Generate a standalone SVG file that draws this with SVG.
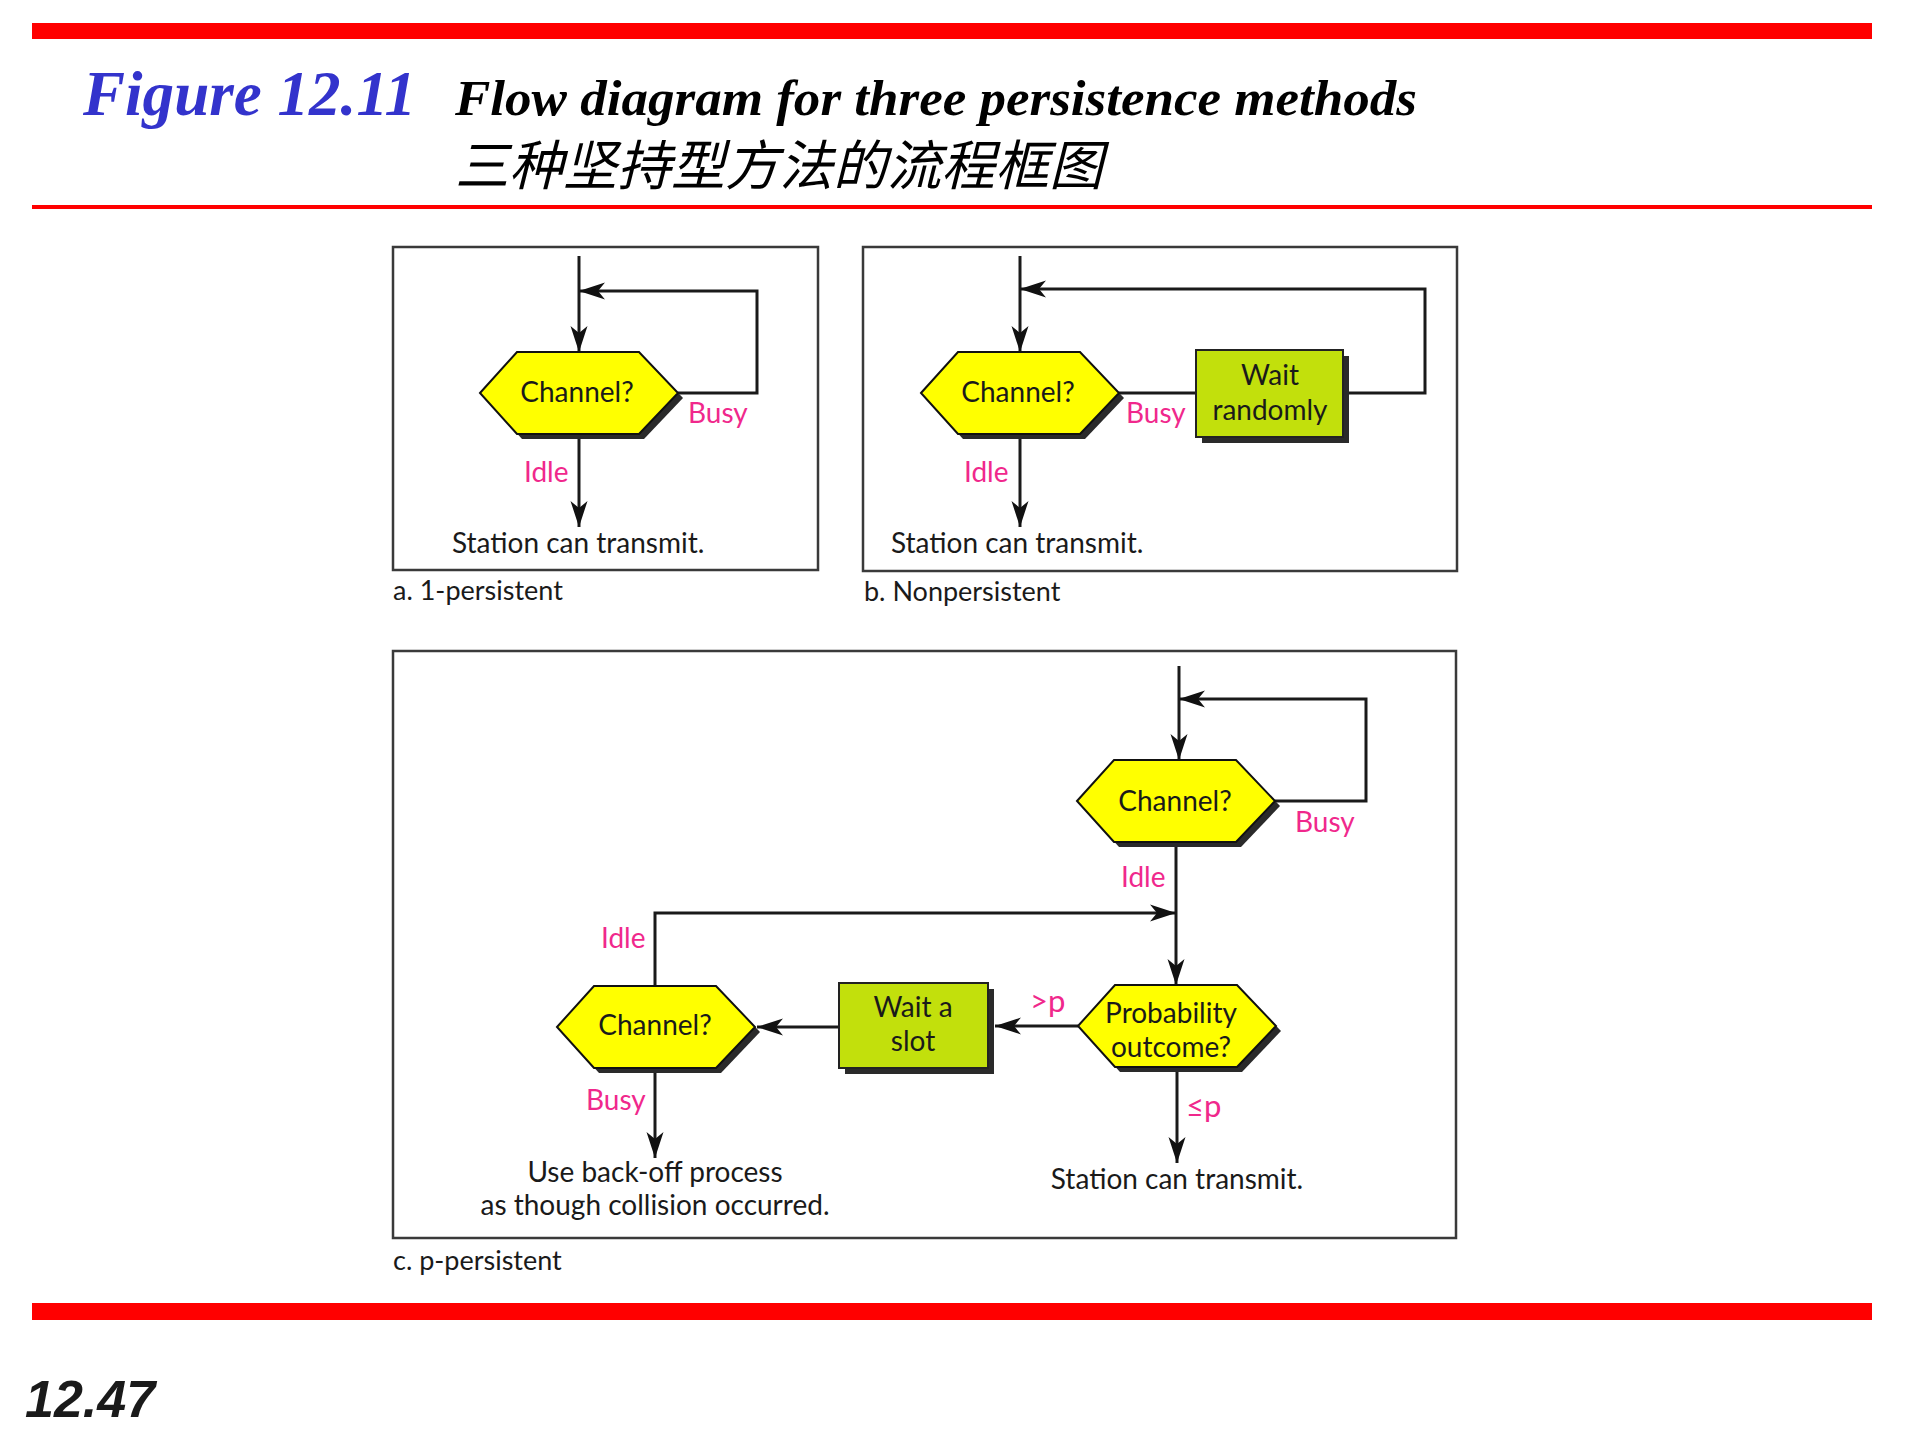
<svg xmlns="http://www.w3.org/2000/svg" xmlns:xlink="http://www.w3.org/1999/xlink" width="1920" height="1440" viewBox="0 0 1920 1440">
  <style>
    .bar { fill: #ff0000; }
    .panel { fill: none; stroke: #3a3a3a; stroke-width: 2.5; }
    .line { fill: none; stroke: #1a1a1a; stroke-width: 3; }
    .arrow { fill: none; stroke: #1a1a1a; stroke-width: 3; marker-end: url(#arr); }
    .hexfill { fill: #ffff00; stroke: #111; stroke-width: 2; }
    .boxfill { fill: #c2e00c; stroke: #222; stroke-width: 2; }
    .shadow { fill: #2a2a2a; }
    .t { font-family: Lato, "Open Sans", sans-serif; font-size: 28px; fill: #1a1a1a; }
    .c { text-anchor: middle; }
    .pink { font-family: Lato, "Open Sans", sans-serif; font-size: 28px; fill: #f0288c; }
    .big { font-size: 31px; }
    .cap { font-family: Lato, "Open Sans", sans-serif; font-size: 27px; fill: #1a1a1a; }
  </style>
  <defs>
    <marker id="arr" markerUnits="userSpaceOnUse" viewBox="-28 -10 30 20" refX="0" refY="0" markerWidth="30" markerHeight="20" orient="auto">
      <path d="M0,0 L-26,-8.5 L-19,0 L-26,8.5 Z" fill="#111"/>
    </marker>
    <polygon id="hex" points="0,41 37,0 159,0 198,41 159,82 37,82"/>
  </defs>

  <!-- header -->
  <rect class="bar" x="32" y="23" width="1840" height="16"/>
  <rect class="bar" x="32" y="205" width="1840" height="4"/>
  <text x="83" y="115" font-family="'Liberation Serif', serif" font-weight="bold" font-style="italic" font-size="63" fill="#3333cc" textLength="333" lengthAdjust="spacingAndGlyphs">Figure 12.11</text>
  <text x="455" y="115" font-family="'Liberation Serif', serif" font-weight="bold" font-style="italic" font-size="50" fill="#000" textLength="962" lengthAdjust="spacingAndGlyphs">Flow diagram for three persistence methods</text>
  <text x="455" y="185" font-family="'Noto Sans CJK SC', sans-serif" font-style="italic" font-size="54" fill="#000">三种坚持型方法的流程框图</text>

  <!-- panel frames -->
  <g id="panel-a-frame">
    <rect class="panel" x="393" y="247" width="425" height="323"/>
    <text class="cap" x="393" y="600">a. 1-persistent</text>
  </g>
  <g id="panel-b-frame">
    <rect class="panel" x="863" y="247" width="594" height="324"/>
    <text class="cap" x="864" y="601">b. Nonpersistent</text>
  </g>
  <g id="panel-c-frame">
    <rect class="panel" x="393" y="651" width="1063" height="587"/>
    <text class="cap" x="393" y="1270">c. p-persistent</text>
  </g>

  <!-- connectors -->
  <g id="connectors">
    <!-- panel a -->
    <line class="arrow" x1="579" y1="256" x2="579" y2="352"/>
    <polyline class="arrow" points="678,393 757,393 757,291 579,291"/>
    <line class="arrow" x1="579" y1="434" x2="579" y2="527"/>
    <!-- panel b -->
    <line class="arrow" x1="1020" y1="256" x2="1020" y2="352"/>
    <line class="line" x1="1119" y1="393" x2="1196" y2="393"/>
    <polyline class="arrow" points="1343,393 1425,393 1425,289 1020,289"/>
    <line class="arrow" x1="1020" y1="434" x2="1020" y2="527"/>
    <!-- panel c -->
    <line class="arrow" x1="1179" y1="666" x2="1179" y2="760"/>
    <polyline class="arrow" points="1275,801 1366,801 1366,699 1179,699"/>
    <line class="arrow" x1="1176" y1="842" x2="1176" y2="985"/>
    <polyline class="arrow" points="655,986 655,913 1176,913"/>
    <line class="arrow" x1="1078" y1="1026" x2="995" y2="1026"/>
    <line class="arrow" x1="839" y1="1027" x2="757" y2="1027"/>
    <line class="arrow" x1="655" y1="1068" x2="655" y2="1158"/>
    <line class="arrow" x1="1177" y1="1067" x2="1177" y2="1163"/>
  </g>

  <!-- panel a nodes -->
  <g id="a-channel" transform="translate(480,352)">
    <use xlink:href="#hex" class="shadow" transform="translate(5,5)"/>
    <use xlink:href="#hex" class="hexfill"/>
    <text class="t c" x="97" y="50">Channel?</text>
  </g>
  <g id="a-labels">
    <text class="pink" x="688" y="423">Busy</text>
    <text class="pink" x="524" y="482">Idle</text>
    <text class="t" x="452" y="553">Station can transmit.</text>
  </g>

  <!-- panel b nodes -->
  <g id="b-channel" transform="translate(921,352)">
    <use xlink:href="#hex" class="shadow" transform="translate(5,5)"/>
    <use xlink:href="#hex" class="hexfill"/>
    <text class="t c" x="97" y="50">Channel?</text>
  </g>
  <g id="b-wait" transform="translate(1196,350)">
    <rect class="shadow" x="6" y="6" width="147" height="87"/>
    <rect class="boxfill" x="0" y="0" width="147" height="87"/>
    <text class="t c" x="74" y="35">Wait</text>
    <text class="t c" x="74" y="70">randomly</text>
  </g>
  <g id="b-labels">
    <text class="pink" x="1126" y="423">Busy</text>
    <text class="pink" x="964" y="482">Idle</text>
    <text class="t" x="891" y="553">Station can transmit.</text>
  </g>

  <!-- panel c nodes -->
  <g id="c-channel-top" transform="translate(1077,760)">
    <use xlink:href="#hex" class="shadow" transform="translate(5,5)"/>
    <use xlink:href="#hex" class="hexfill"/>
    <text class="t c" x="98" y="51">Channel?</text>
  </g>
  <g id="c-probability" transform="translate(1078,985)">
    <use xlink:href="#hex" class="shadow" transform="translate(5,5)"/>
    <use xlink:href="#hex" class="hexfill"/>
    <text class="t c" x="93" y="38">Probability</text>
    <text class="t c" x="93" y="72">outcome?</text>
  </g>
  <g id="c-wait-slot" transform="translate(839,983)">
    <rect class="shadow" x="6" y="6" width="149" height="85"/>
    <rect class="boxfill" x="0" y="0" width="149" height="85"/>
    <text class="t c" x="74" y="34">Wait a</text>
    <text class="t c" x="74" y="68">slot</text>
  </g>
  <g id="c-channel-left" transform="translate(557,986)">
    <use xlink:href="#hex" class="shadow" transform="translate(5,5)"/>
    <use xlink:href="#hex" class="hexfill"/>
    <text class="t c" x="98" y="49">Channel?</text>
  </g>
  <g id="c-labels">
    <text class="pink" x="1295" y="832">Busy</text>
    <text class="pink" x="1121" y="887">Idle</text>
    <text class="pink" x="601" y="948">Idle</text>
    <text class="pink big" x="1030" y="1012">&gt;p</text>
    <text class="pink big" x="1186" y="1117">≤p</text>
    <text class="pink" x="586" y="1110">Busy</text>
    <text class="t c" x="655" y="1182">Use back-off process</text>
    <text class="t c" x="655" y="1215">as though collision occurred.</text>
    <text class="t c" x="1177" y="1189">Station can transmit.</text>
  </g>

  <!-- footer -->
  <rect class="bar" x="32" y="1303" width="1840" height="17"/>
  <text x="25" y="1417" font-family="'Liberation Sans', Arial, sans-serif" font-weight="bold" font-style="italic" font-size="52" fill="#1a1a1a">12.47</text>
</svg>
